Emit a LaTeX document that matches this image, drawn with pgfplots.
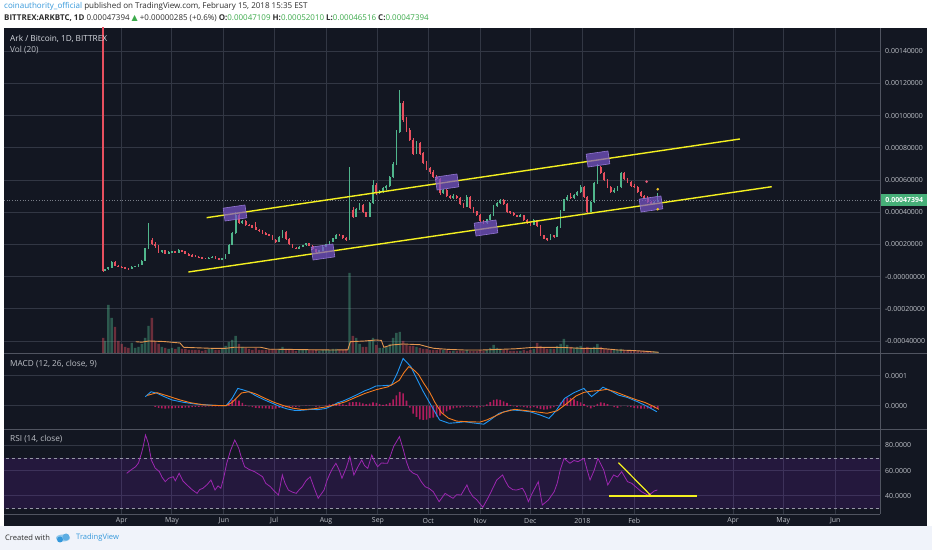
\documentclass[border=0pt]{standalone}
\usepackage{pgfplots}
\pgfplotsset{compat=1.18}
\usepackage{pgfplotstable}
\usepackage{fontspec}
\setmainfont{Open Sans}
\newfontfamily\dejavu{DejaVu Sans}
\definecolor{bg}{RGB}{19,23,34}
\definecolor{gridc}{RGB}{50,55,68}
\definecolor{sepc}{RGB}{80,84,96}
\definecolor{upc}{RGB}{80,182,140}
\definecolor{dnc}{RGB}{232,80,95}
\definecolor{yel}{RGB}{244,240,32}
\definecolor{tickc}{RGB}{190,193,200}
\definecolor{macdblue}{RGB}{33,150,243}
\definecolor{macdorange}{RGB}{245,124,30}
\definecolor{histc}{RGB}{205,30,105}
\definecolor{rsic}{RGB}{156,39,176}
\definecolor{rsiband}{RGB}{120,30,200}
\definecolor{boxc}{RGB}{120,84,200}
\definecolor{tvblue}{RGB}{52,152,219}
\definecolor{hdrtext}{RGB}{45,45,45}
\definecolor{valgreen}{RGB}{60,170,75}
\definecolor{pricegreen}{RGB}{70,175,120}
\definecolor{footbg}{RGB}{240,243,250}
\definecolor{volma}{RGB}{226,150,80}
\definecolor{paneltext}{RGB}{215,218,225}

\pgfplotsset{
  tvaxis/.style={
    scale only axis, width=876bp,
    xmin=-70.27, xmax=452.72,
    axis line style={draw=none},
    major tick length=0pt,
    xtick={0,30,61,91,122,153,183,214,244,275,306,365,395,426},
    grid=major,
    major grid style={gridc, line width=1bp},
    ticklabel style={font=\fontsize{7}{8}\selectfont, text=tickc},
    yticklabel pos=right,
    yticklabel style={anchor=west, inner sep=0pt, xshift=5bp},
  },
  candle/.style={only marks, mark=none, mark options={opacity=0},
    error bars/.cd, y dir=both, y explicit, error mark=none},
}

\pgfplotstableread{
d o h l c u v
-11 1600 1700 32 37 0 15
-10 37 48 35 46 1 12
-8 46 62 44 58 1 48
-6 58 95 56 93 1 35
-4 93 96 64 66 0 26
-2 66 70 58 62 0 12
0 62 64 55 57 0 9
2 57 59 50 52 0 6
4 52 54 46 48 0 5
6 48 64 47 62 1 10
8 62 68 60 65 1 5
10 65 78 63 76 1 6
12 76 102 74 98 1 9
14 98 180 96 175 1 15
16 175 332 170 230 1 27
18 230 240 198 205 0 35
20 205 215 180 190 0 12
22 190 196 150 155 0 9
24 155 168 150 162 1 6
26 162 166 140 145 0 5
28 145 158 142 153 1 4
30 153 162 150 158 1 5
32 158 160 146 149 0 4
34 149 170 147 166 1 6
36 166 168 155 158 0 4
38 158 160 140 142 0 4
40 142 145 130 133 0 3
42 133 138 128 130 0 3
44 130 132 122 124 0 3
46 124 128 118 120 0 3
48 120 122 114 116 0 2
50 116 118 108 110 0 3
52 110 121 108 118 1 4
54 118 127 116 124 1 4
56 124 126 111 113 0 3
58 113 115 106 108 0 3
60 108 114 106 112 1 4
62 112 143 110 140 1 7
64 140 201 138 198 1 11
66 198 275 195 270 1 13
68 270 400 265 383 1 17
70 383 390 325 332 0 9
72 332 352 326 345 1 6
74 345 350 315 321 0 5
76 321 330 312 318 0 4
78 318 322 300 305 0 3
80 305 340 288 292 0 5
82 292 298 280 284 0 3
84 284 290 266 270 0 3
86 270 276 258 262 0 3
88 262 264 250 254 0 3
90 254 258 225 230 0 4
92 230 235 212 217 0 3
94 217 250 214 245 1 4
96 245 290 240 279 1 6
98 279 282 230 235 0 4
100 235 238 198 202 0 4
102 202 206 176 180 0 3
104 180 184 172 176 0 2
106 176 190 173 186 1 3
108 186 198 182 195 1 3
110 195 212 190 207 1 3
112 207 210 188 192 0 3
114 192 195 166 170 0 3
116 170 172 150 155 0 3
118 155 165 152 162 1 2
120 162 188 160 185 1 3
122 185 205 182 202 1 3
124 202 222 198 218 1 3
126 218 242 215 238 1 4
128 238 265 235 260 1 4
130 260 265 252 259 0 3
132 259 262 236 240 0 3
134 240 244 222 228 0 4
136 228 683 225 414 1 80
138 414 430 365 373 0 17
140 373 425 368 420 1 15
142 420 455 415 445 1 9
144 445 450 395 400 0 6
146 400 404 368 373 0 6
148 373 462 370 456 1 12
150 456 600 450 570 1 15
152 570 585 510 518 0 8
154 518 540 512 530 1 5
156 530 560 522 549 1 5
158 549 572 540 565 1 6
160 565 628 558 621 1 9
162 621 710 615 700 1 15
164 700 910 695 900 1 20
166 900 1160 890 1077 1 21
168 1077 1090 960 973 0 12
170 973 990 900 910 0 8
172 910 925 840 850 0 7
174 850 860 755 766 0 7
176 766 840 760 828 1 6
178 828 835 758 766 0 5
180 766 772 700 710 0 4
182 710 718 665 673 0 4
184 673 680 640 650 0 3
186 650 660 612 621 0 3
188 621 630 598 605 0 3
190 605 612 508 520 0 4
192 520 545 512 538 1 3
194 538 545 492 500 0 3
196 500 505 480 487 0 2
198 487 512 482 501 1 2
200 501 508 484 490 0 2
202 490 494 445 450 0 2
204 450 455 428 435 0 2
206 435 505 430 497 1 3
208 497 502 418 425 0 2
210 425 430 398 405 0 2
212 405 410 376 383 0 2
214 383 388 340 345 0 3
216 345 350 326 332 0 2
218 332 360 328 355 1 3
220 355 390 350 385 1 5
222 385 445 380 440 1 8
224 440 462 432 456 1 5
226 456 485 450 476 1 4
228 476 480 445 450 0 3
230 450 455 398 404 0 3
232 404 410 390 395 0 2
234 395 400 378 383 0 2
236 383 386 370 375 0 2
238 375 390 372 383 1 2
240 383 386 346 352 0 3
242 352 356 330 335 0 2
244 335 338 316 321 0 3
246 321 356 318 352 1 4
248 352 355 310 315 0 10
250 315 318 250 255 0 7
252 255 260 232 238 0 5
254 238 242 220 228 0 4
256 228 265 225 259 1 4
258 259 262 242 248 0 4
260 248 315 245 310 1 7
262 310 415 305 410 1 9
264 410 485 405 480 1 14
266 480 505 470 497 1 8
268 497 520 480 487 0 6
270 487 515 482 507 1 5
272 507 530 500 525 1 6
274 525 570 520 559 1 7
276 559 565 490 497 0 5
278 497 502 398 404 0 6
280 404 472 400 466 1 5
282 466 588 460 580 1 6
284 580 700 575 683 1 9
286 683 690 635 642 0 6
288 642 650 592 600 0 4
290 600 606 552 559 0 4
292 559 565 522 528 0 3
294 528 548 520 540 1 3
296 540 566 535 559 1 3
298 559 652 552 642 1 4
300 642 648 602 610 0 3
302 610 615 585 590 0 2
304 590 596 560 565 0 2
306 565 575 552 559 0 2
308 559 562 522 528 0 2
310 528 532 495 500 0 2
312 500 505 482 487 0 2
314 487 500 460 466 0 2
316 466 472 448 455 0 1.5
318 455 470 450 466 1 1.5
320 471.09 520.10 465.16 473.94 1 1
}\candles

\begin{document}
\begin{tikzpicture}
\useasboundingbox (0,0) rectangle (932bp,550bp);
\fill[white] (0,0) rectangle (932bp,550bp);
\fill[footbg] (0,0) rectangle (932bp,24bp);
\fill[bg] (4bp,24bp) rectangle (927bp,522bp);

% ---------------- price panel ----------------
\begin{axis}[tvaxis, at={(4bp,197bp)}, anchor=south west, height=325bp,
  ymin=-473.9, ymax=1544.7,
  ytick={-400,-200,0,200,400,600,800,1000,1200,1400},
  yticklabels={-0.00040000,-0.00020000,-0.00000000,0.00020000,0.00040000,0.00060000,0.00080000,0.00100000,0.00120000,0.00140000},
  xticklabels={}]
\addplot [color={rgb,255:red,120;green,125;blue,135}, dotted, line width=0.7bp] coordinates {(-80,473.94) (460,473.94)};
% wicks
\addplot [dnc, candle, error bar style={line width=0.7bp, dnc}]
  table [x=d, y expr={ifthenelse(\thisrow{u}==0,(\thisrow{h}+\thisrow{l})/2,-3000)},
               y error expr={ifthenelse(\thisrow{u}==0,(\thisrow{h}-\thisrow{l})/2,0)}] {\candles};
\addplot [upc, candle, error bar style={line width=0.7bp, upc}]
  table [x=d, y expr={ifthenelse(\thisrow{u}==1,(\thisrow{h}+\thisrow{l})/2,-3000)},
               y error expr={ifthenelse(\thisrow{u}==1,(\thisrow{h}-\thisrow{l})/2,0)}] {\candles};
% bodies
\addplot [dnc, candle, error bar style={line width=1.8bp, dnc}]
  table [x=d, y expr={ifthenelse(\thisrow{u}==0,(\thisrow{o}+\thisrow{c})/2,-3000)},
               y error expr={ifthenelse(\thisrow{u}==0,abs(\thisrow{o}-\thisrow{c})/2+1,0)}] {\candles};
\addplot [upc, candle, error bar style={line width=1.8bp, upc}]
  table [x=d, y expr={ifthenelse(\thisrow{u}==1,(\thisrow{o}+\thisrow{c})/2,-3000)},
               y error expr={ifthenelse(\thisrow{u}==1,abs(\thisrow{o}-\thisrow{c})/2+1,0)}] {\candles};
% channel
\addplot [yel, line width=1.4bp] coordinates {(50.7,366.5) (369.1,855.3)};
\addplot [yel, line width=1.4bp] coordinates {(39.8,29.2) (388.1,559.0)};
% boxes
\addplot [fill=boxc, fill opacity=0.72, draw=boxc!80!white, line width=0.6bp] coordinates {(73.58,445.5) (74.72,365.6) (61.70,345.8) (60.57,425.6) (73.58,445.5)};
\addplot [fill=boxc, fill opacity=0.72, draw=boxc!80!white, line width=0.6bp] coordinates {(126.12,203.3) (127.25,123.4) (114.24,103.5) (113.10,183.4) (126.12,203.3)};
\addplot [fill=boxc, fill opacity=0.72, draw=boxc!80!white, line width=0.6bp] coordinates {(200.15,638.1) (201.28,558.2) (188.27,538.3) (187.13,618.2) (200.15,638.1)};
\addplot [fill=boxc, fill opacity=0.72, draw=boxc!80!white, line width=0.6bp] coordinates {(223.43,352.4) (224.57,272.5) (211.55,252.6) (210.42,332.5) (223.43,352.4)};
\addplot [fill=boxc, fill opacity=0.72, draw=boxc!80!white, line width=0.6bp] coordinates {(290.30,780.9) (291.43,701.0) (278.42,681.2) (277.28,761.0) (290.30,780.9)};
\addplot [fill=boxc, fill opacity=0.72, draw=boxc!80!white, line width=0.6bp] coordinates {(321.94,501.4) (323.07,421.5) (310.06,401.7) (308.93,481.5) (321.94,501.4)};
% dots
\addplot [only marks, mark=*, mark size=1.1bp, color={rgb,255:red,230;green,90;blue,120}] coordinates {(313.4,590)};
\addplot [only marks, mark=*, mark size=1.1bp, color={rgb,255:red,240;green,200;blue,40}] coordinates {(320,543) (320,418.6)};
\end{axis}

% ---------------- volume overlay ----------------
\begin{axis}[scale only axis, width=876bp, height=325bp, at={(4bp,197bp)}, anchor=south west,
  xmin=-70.27, xmax=452.72, ymin=0, ymax=325, hide axis]
\addplot [ybar, bar width=2.4bp, fill=upc, fill opacity=0.42, draw=none]
  table [x=d, y expr={ifthenelse(\thisrow{u}==1,\thisrow{v},0)}] {\candles};
\addplot [ybar, bar width=2.4bp, fill=dnc, fill opacity=0.42, draw=none]
  table [x=d, y expr={ifthenelse(\thisrow{u}==0,\thisrow{v},0)}] {\candles};
\addplot [volma, line width=0.9bp] coordinates {(8.4,11.3) (12,10.8) (16.3,12) (25,11.5) (34.8,10) (37,5.7) (45,5.2) (55,4.6) (62.3,4.7) (67,5.7) (83,5.7) (88,3.8) (100,3.6) (115,3.2) (126.6,3) (135,3.2) (136.5,11.3) (145,12) (151.8,13) (155,12.6) (156.5,5.7) (161,8) (168,9) (178,8.3) (183,6) (186.3,4.7) (195,3.6) (204.7,3) (215,3) (225,3.6) (235,4.2) (246,5.7) (256,5.6) (264,5.5) (273.6,4.7) (285,4.6) (290,4) (296.3,3) (305,2.5) (312,1.8) (320.6,0.7)};
\end{axis}

% ---------------- MACD ----------------
\begin{axis}[tvaxis, at={(4bp,121bp)}, anchor=south west, height=76bp,
  ymin=-7.59, ymax=17.49, ytick={0,10}, yticklabels={0.0000,0.0001}, xticklabels={}]
\addplot [ybar, bar width=1.6bp, fill=histc, fill opacity=0.85, draw=none] coordinates {
(20,-0.3) (22,-0.6) (24,-0.8) (26,-0.9) (28,-0.8) (30,-0.8) (32,-0.7) (34,-0.6) (36,-0.6) (38,-0.5)
(40,-0.5) (42,-0.4) (44,-0.3) (46,-0.3) (48,-0.2) (50,-0.2) (52,-0.1) (54,-0.1) (56,-0.1) (58,-0.1)
(60,0.0) (62,0.3) (64,1.2) (66,2.0) (68,2.3) (70,1.8) (72,1.0) (74,0.4) (76,-0.1) (78,-0.4)
(80,-0.6) (82,-0.7) (84,-0.8) (86,-0.8) (88,-0.9) (90,-1.0) (92,-0.9) (94,-0.6) (96,-0.3) (98,-0.3)
(100,-0.4) (102,-0.4) (104,-0.3) (106,-0.2) (108,0.0) (110,0.1) (112,0.1) (114,0.0) (116,-0.2) (118,-0.2)
(120,0.0) (122,0.2) (124,0.5) (126,0.7) (128,0.8) (130,0.7) (132,0.5) (134,0.3) (136,1.2) (138,1.3)
(140,1.3) (142,1.2) (144,0.9) (146,0.6) (148,0.8) (150,1.2) (152,1.0) (154,0.6) (156,0.4) (158,0.6)
(160,1.0) (162,2.2) (164,3.5) (166,4.7) (168,4.2) (170,1.8) (172,-0.5) (174,-2.5) (176,-3.6) (178,-4.4)
(180,-4.6) (182,-4.5) (184,-4.0) (186,-3.8) (188,-3.5) (190,-3.2) (192,-2.5) (194,-1.8) (196,-1.2) (198,-0.8)
(200,-0.5) (202,-0.5) (204,-0.4) (206,-0.2) (208,-0.3) (210,-0.4) (212,-0.5) (214,-0.4) (216,-0.2) (218,0.5)
(220,1.3) (222,2.0) (224,2.2) (226,2.0) (228,1.5) (230,1.0) (232,0.4) (234,-0.1) (236,-0.3) (238,-0.2)
(240,-0.4) (242,-0.5) (244,-0.6) (246,-0.4) (248,-0.7) (250,-1.0) (252,-1.2) (254,-1.1) (256,-0.8) (258,-0.4)
(260,0.2) (262,1.2) (264,2.2) (266,2.8) (268,2.6) (270,2.2) (272,1.6) (274,1.2) (276,0.6) (278,-0.4)
(280,-0.8) (282,-0.3) (284,0.7) (286,1.2) (288,1.0) (290,0.6) (292,0.0) (294,-0.4) (296,-0.6) (298,-0.1)
(300,0.0) (302,-0.2) (304,-0.4) (306,-0.6) (308,-0.8) (310,-0.9) (312,-0.9) (314,-0.9) (316,-0.8) (318,-0.8) (320,-0.8)};
\addplot [macdblue, line width=0.9bp] coordinates {(14.1,3.07) (17.5,4.7) (21.1,4.2) (25,3.2) (30,2.0) (37,1.2) (43.8,0.66) (50,0.4) (56,0.2) (62.3,0.1) (65.9,2.5) (69.3,5.8) (72,5.4) (76,4.7) (80,3.4) (85.3,2.0) (90,0.9) (94.5,-0.2) (99,-1.0) (103.7,-1.5) (108,-1.4) (112.9,-1.1) (117,-1.2) (122,-0.8) (126,0.2) (129,1.1) (132,1.6) (135.7,2.5) (140,3.6) (145,5.0) (148,5.6) (151.8,6.6) (156,6.7) (161,6.9) (164.5,10.8) (168,15.7) (172.6,13.0) (176,9.2) (179.5,5.3) (184,0.9) (189.8,-4.6) (195.4,-5.7) (200,-5.5) (204.7,-5.2) (210,-5.6) (216.2,-6.0) (220,-4.6) (225.3,-2.4) (232.3,-1.3) (238,-1.5) (243.8,-1.9) (250,-3.0) (255.1,-4.1) (259,-1.8) (264.4,2.5) (270,4.4) (275.9,5.8) (280.5,3.1) (284,4.6) (287.3,6.2) (292,5.0) (296.6,3.6) (302,2.8) (308,1.4) (314,-0.2) (319.5,-1.9)};
\addplot [macdorange, line width=0.9bp] coordinates {(15.3,3.5) (21.1,4.4) (27,3.4) (34.8,2.0) (41,1.1) (48.5,0.4) (55,0.2) (62.3,0.1) (66,1.2) (71.5,4.3) (76,4.7) (80,4.0) (85.3,2.6) (91,1.2) (96.8,0.1) (102,-0.7) (108.2,-1.2) (115,-0.9) (122,-0.3) (128,0.5) (133.6,1.4) (139,2.7) (145,4.1) (152,5.4) (158.8,6.3) (162,7.2) (165.7,8.5) (168.5,11) (171.4,13.0) (174,12.1) (177.2,10.4) (180,7.8) (184,4.4) (187,1.2) (190.9,-2.2) (195,-4.0) (200.1,-5.0) (207,-5.2) (213.9,-5.3) (218,-4.6) (223.1,-3.3) (228,-2.0) (234.6,-1.1) (241,-1.5) (248.4,-2.0) (254,-2.4) (259.9,-1.6) (265,0.5) (271.2,3.3) (276,4.5) (280.5,4.9) (285,5.1) (289.7,5.5) (295,4.6) (301.1,3.3) (307,2.1) (312.7,1.1) (317,0.0) (320.7,-1.1)};
\end{axis}

% ---------------- RSI ----------------
\begin{axis}[tvaxis, at={(4bp,36bp)}, anchor=south west, height=85bp,
  ymin=25.8, ymax=92.86, ytick={40,60,80}, yticklabels={40.0000,60.0000,80.0000},
  xticklabels={Apr,May,Jun,Jul,Aug,Sep,Oct,Nov,Dec,2018,Feb,Apr,May,Jun},
  xticklabel style={anchor=center, inner sep=0pt, yshift=-7bp}]
\addplot [fill=rsiband, fill opacity=0.17, draw=none] coordinates {(-80,30) (460,30) (460,70) (-80,70) (-80,30)};
\addplot [color={rgb,255:red,150;green,152;blue,165}, dash pattern=on 3bp off 3bp, line width=0.7bp] coordinates {(-80,70) (460,70)};
\addplot [color={rgb,255:red,150;green,152;blue,165}, dash pattern=on 3bp off 3bp, line width=0.7bp] coordinates {(-80,30) (460,30)};
\addplot [rsic, line width=0.8bp] coordinates {(3.0,57.9) (5.5,60.5) (8.3,63.1) (10,66) (11.8,73.7) (13,80) (14.2,88.1) (15.9,81.6) (17.7,68.4) (20,62) (22.5,59.2) (24,55) (26.0,51.3) (28,54) (30.8,55.2) (32,52) (34.3,57.9) (36.5,52) (39.0,48.7) (42,45) (45.0,42.1) (46.5,45) (48.5,46.1) (51,49) (53.3,52.6) (55.7,44.7) (57.5,48) (59.2,46.1) (61,55) (62.7,65.8) (65,76) (67.5,84.2) (69.9,77.6) (71.5,70) (73.4,63.1) (76,61) (79.3,59.2) (82,57) (84.1,55.2) (86,50) (88.8,47.3) (91,44) (93.6,40.8) (95.9,56.6) (97.5,50) (99.5,44.7) (102,43) (104.2,42.1) (106,45) (107.8,47.3) (110,52) (112.5,55.2) (115,46) (117.3,38.2) (120.8,44.7) (122.5,52) (124.4,57.9) (126,62) (127.9,65.8) (130,60) (131.5,54) (134,62) (136.2,71) (138.6,56.6) (141,63) (143.3,68.4) (145,64) (146.9,61.8) (149.3,72.3) (151,67) (152.8,63.1) (155,66) (158.7,65.8) (160.5,72) (162.3,78.9) (165.8,86.8) (168.2,76.3) (170,67) (171.8,60.5) (174,58) (176.5,56.6) (179,51) (181.2,47.3) (183.5,46) (186.0,43.4) (189.5,35.5) (193.1,42.1) (195.5,40) (197.8,38.2) (200,41) (202.6,40.8) (206.1,48.7) (207.5,44) (209.7,39.5) (212,37) (215.6,31.1) (219.1,39.5) (221.5,46) (223.9,52.6) (227.4,56.6) (229,52) (231.0,47.3) (233.5,45) (235.7,44.7) (239.3,46.1) (241,42) (242.8,35.5) (245,42) (248.7,51.3) (251.1,32.9) (254.7,36.8) (258.2,43.4) (260,50) (261.8,60.5) (264.1,69.7) (267.6,65.8) (270,68) (272.4,67.1) (276.0,69.7) (278,60) (279.6,52.6) (282,60) (284.3,69.7) (287.8,60.5) (290.2,48.7) (293.7,56.6) (296,55) (298.5,59.2) (302.0,51.3) (304.5,50) (306.8,47.3) (310.3,43.4) (313.9,40.8) (316.2,42.1) (318,44) (319.8,44.7)};
\addplot [yel, line width=1.2bp] coordinates {(291.0,40) (343.3,40)};
\addplot [yel, line width=1.2bp] coordinates {(296.6,66.3) (316.2,40)};
\end{axis}

% separators
\draw[sepc, line width=0.9bp] (4bp,197bp) -- (927bp,197bp);
\draw[sepc, line width=0.9bp] (4bp,121bp) -- (927bp,121bp);
\draw[sepc, line width=0.9bp] (880bp,36bp) -- (880bp,522bp);
\draw[sepc, line width=0.9bp] (4bp,36bp) -- (880bp,36bp);

% current price label
\node[fill=pricegreen, text=white, inner sep=0pt, minimum width=46bp, minimum height=12bp, anchor=west,
  font=\fontsize{7}{8}\selectfont\bfseries] at (881bp,349.6bp) {0.00047394};

% panel titles
\node[anchor=west, inner sep=0pt, text=paneltext, font=\fontsize{8.3}{10}\selectfont] at (10bp,511.3bp) {Ark / Bitcoin, 1D, BITTREX};
\node[anchor=west, inner sep=0pt, text=tickc, font=\fontsize{8.3}{10}\selectfont] at (10bp,500bp) {Vol (20)};
\node[anchor=west, inner sep=0pt, text=tickc, font=\fontsize{8.3}{10}\selectfont] at (10bp,186bp) {MACD (12, 26, close, 9)};
\node[anchor=west, inner sep=0pt, text=tickc, font=\fontsize{8.3}{10}\selectfont] at (10bp,111bp) {RSI (14, close)};

% header
\node[anchor=west, inner sep=0pt, font=\fontsize{8.05}{10}\selectfont] at (4bp,543.3bp)
  {\textcolor{tvblue}{coinauthority\_official} \textcolor{hdrtext}{published on TradingView.com, February 15, 2018 15:35 EST}};
\node[anchor=west, inner sep=0pt, text=hdrtext, font=\fontsize{8}{10}\selectfont] at (4bp,531.7bp)
  {\textbf{BITTREX:ARKBTC, 1D} 0.00047394 {\dejavu\textcolor{valgreen}{▲}} +0.00000285 (+0.6\%) \textbf{O:}\textcolor{valgreen}{0.00047109} \textbf{H:}\textcolor{valgreen}{0.00052010} \textbf{L:}\textcolor{valgreen}{0.00046516} \textbf{C:}\textcolor{valgreen}{0.00047394}};

% footer
\node[anchor=west, inner sep=0pt, text=hdrtext, font=\fontsize{7.6}{9}\selectfont] at (5bp,12bp) {Created with};
\fill[tvblue!55] (63bp,12bp) ellipse (7bp and 3.5bp);
\fill[tvblue] (60bp,10.5bp) circle (3bp);
\fill[tvblue!80] (66bp,13bp) circle (3.5bp);
\node[anchor=west, inner sep=0pt, text=tvblue, font=\fontsize{7.6}{9}\selectfont] at (76bp,12bp) {TradingView};
\end{tikzpicture}
\end{document}
